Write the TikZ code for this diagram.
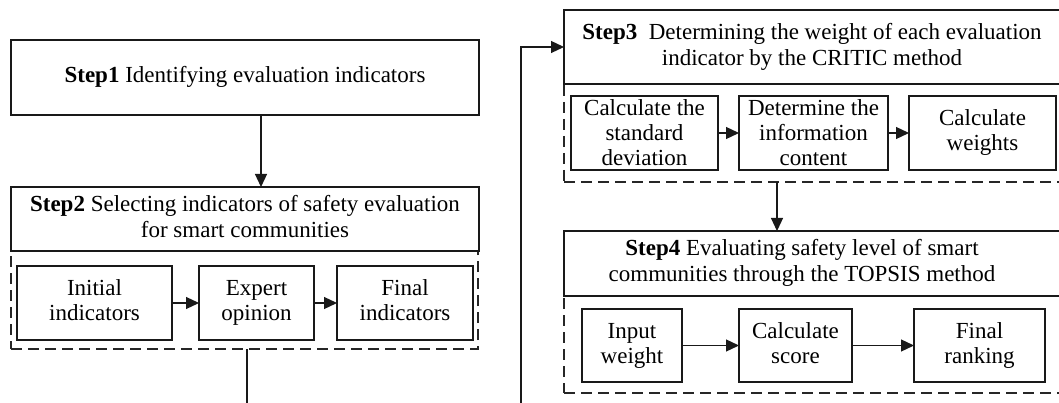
\documentclass[tikz,border=0pt]{standalone}
\usepackage{fontspec}
\setmainfont{Liberation Serif}
\usetikzlibrary{arrows.meta,calc}
\newcommand{\ls}{\strut}
\begin{document}
\begin{tikzpicture}[x=1pt,y=-1pt,
  every node/.style={inner sep=0pt,outer sep=0pt},
  ln/.style={draw=black!90,line width=1.2pt},
  titlebox/.style={ln,fill=white,anchor=north west},
  regionbox/.style={draw=black!85,line width=1.2pt,dash pattern=on 11pt off 6pt,anchor=north west},
  subbox/.style={ln,fill=white,align=center,font=\fontsize{23}{25}\selectfont},
  ttext/.style={align=center,font=\fontsize{23}{26}\selectfont},
  arr/.style={draw=black!90,line width=1.2pt,-{Triangle[length=13pt,width=12pt]}}
]
\useasboundingbox (0,0) rectangle (1059,403);
\clip (0,0) rectangle (1059,403);
\fill[white] (0,0) rectangle (1059,403);

% Step 1
\node[titlebox,minimum width=468pt,minimum height=75pt] (s1) at (11,40) {};
\node[ttext] (s1t) at (245,77) {\textbf{Step1} Identifying evaluation indicators};

% Step 2
\node[regionbox,minimum width=467pt,minimum height=98pt] (s2r) at (11,251) {};
\node[titlebox,minimum width=468pt,minimum height=64pt] (s2) at (11,187) {};
\node[ttext] (s2t) at (245,219) {\ls\textbf{Step2} Selecting indicators of safety evaluation\\for smart communities\ls};
\node[subbox,minimum width=155pt,minimum height=74pt] (i1) at (94.5,303) {\ls Initial\\indicators\ls};
\node[subbox,minimum width=115pt,minimum height=74pt] (i2) at (256.5,303) {\ls Expert\\opinion\ls};
\node[subbox,minimum width=136pt,minimum height=74pt] (i3) at (405,303) {\ls Final\\indicators\ls};

% Step 3
\node[regionbox,minimum width=520pt,minimum height=98pt] (s3r) at (564,84) {};
\node[titlebox,minimum width=520pt,minimum height=74pt] (s3) at (564,10) {};
\node[ttext] (s3t) at (812,47) {\ls\textbf{Step3}\ \ Determining the weight of each evaluation\\indicator by the CRITIC method\ls};
\node[subbox,minimum width=147pt,minimum height=74pt] (c1) at (644.5,133) {Calculate the\\standard\\deviation};
\node[subbox,minimum width=149pt,minimum height=74pt] (c2) at (813.5,133) {Determine the\\information\\content};
\node[subbox,minimum width=147pt,minimum height=74pt] (c3) at (982.5,133) {\ls Calculate\\weights\ls};

% Step 4
\node[regionbox,minimum width=520pt,minimum height=97pt] (s4r) at (564,296) {};
\node[titlebox,minimum width=520pt,minimum height=65pt] (s4) at (564,231) {};
\node[ttext] (s4t) at (802,263.5) {\ls\textbf{Step4} Evaluating safety level of smart\\communities through the TOPSIS method\ls};
\node[subbox,minimum width=100pt,minimum height=73pt] (t1) at (632,345.5) {\ls Input\\weight\ls};
\node[subbox,minimum width=113pt,minimum height=73pt] (t2) at (795.5,345.5) {\ls Calculate\\score\ls};
\node[subbox,minimum width=131pt,minimum height=73pt] (t3) at (979.5,345.5) {\ls Final\\ranking\ls};

% connectors
\coordinate (a1) at (261,0);
\draw[arr] (s1.south -| a1) -- (s2.north -| a1);
\draw[arr] (i1.east) -- (i2.west);
\draw[arr] (i2.east) -- (i3.west);
\draw[arr] (c1.east) -- (c2.west);
\draw[arr] (c2.east) -- (c3.west);
\coordinate (a3) at (777,0);
\draw[arr] (s3r.south -| a3) -- (s4.north -| a3);
\draw[arr] (t1.east) -- (t2.west);
\draw[arr] (t2.east) -- (t3.west);
\coordinate (turn1) at (247,440);
\coordinate (turn2) at (521,440);
\draw[arr] (s2r.south -| turn1) -- (turn1) -- (turn2) |- (s3.west);
\end{tikzpicture}
\end{document}
